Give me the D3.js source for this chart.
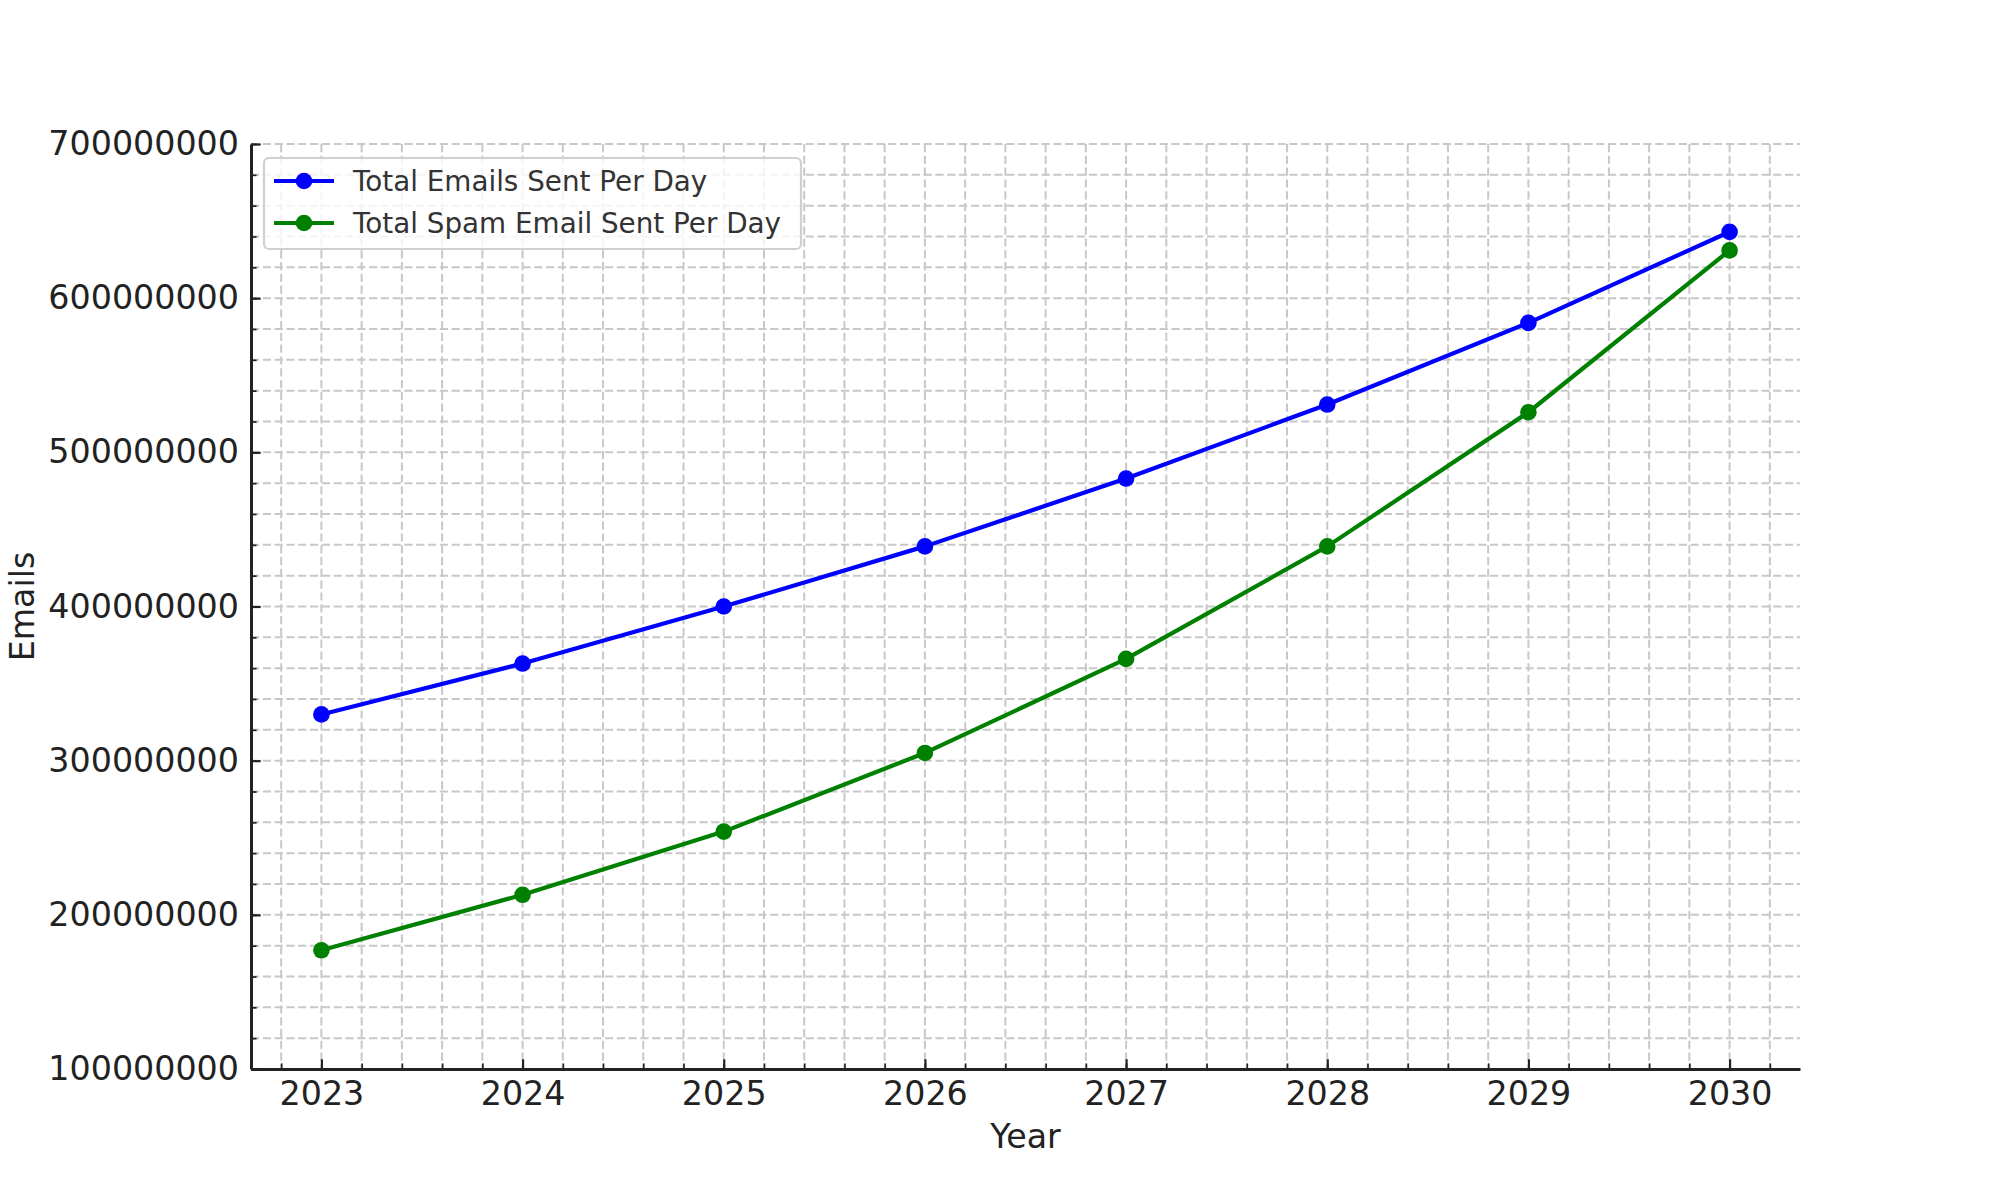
<!DOCTYPE html>
<html>
<head>
<meta charset="utf-8">
<script src="https://cdn.jsdelivr.net/npm/d3@7"></script>
<style>
  html, body { margin: 0; padding: 0; background: #fff; }
  svg { display: block; font-family: "DejaVu Sans", sans-serif; }
</style>
</head>
<body>
<svg id="chart" width="2000" height="1200"></svg>
<script>
// ---- data ----
const years = [2023, 2024, 2025, 2026, 2027, 2028, 2029, 2030];
const totalEmails = [330000000, 363000000, 400000000, 439000000, 483000000, 531000000, 584000000, 643000000];
const spamEmails  = [177000000, 213000000, 254000000, 305000000, 366000000, 439000000, 526000000, 631000000];
const seriesNames = ["Total Emails Sent Per Day", "Total Spam Email Sent Per Day"];
const seriesColors = ["#0000ff", "#008000"];
const yTickValues = [100000000, 200000000, 300000000, 400000000, 500000000, 600000000, 700000000];
const xLabel = "Year";
const yLabel = "Emails";

// ---- layout ----
const svg = d3.select("#chart");
const pLeft = 251, pRight = 1800, pTop = 144, pBottom = 1069;

const x = d3.scaleLinear().domain([2022.65, 2030.35]).range([pLeft, pRight]);
const y = d3.scaleLinear().domain([100000000, 700000000]).range([pBottom, pTop]);

const xMinor = d3.range(2022.8, 2030.35, 0.2).map(v => Math.round(v * 10) / 10);
const yMinor = d3.range(100000000, 700000001, 20000000);

// grid
const grid = svg.append("g").attr("stroke", "#c8c8c8").attr("stroke-width", 2)
  .attr("stroke-dasharray", "8.2,3.6").attr("fill", "none");
grid.selectAll("line.gx").data(xMinor).join("line").attr("class", "gx")
  .attr("x1", d => x(d)).attr("x2", d => x(d)).attr("y1", pTop).attr("y2", pBottom);
grid.selectAll("line.gy").data(yMinor).join("line").attr("class", "gy")
  .attr("x1", pLeft).attr("x2", pRight).attr("y1", d => y(d)).attr("y2", d => y(d));

// axes
const axisColor = "#222";
function styleAxis(g) {
  g.select(".domain").attr("stroke", axisColor).attr("stroke-width", 3);
  g.selectAll(".tick line").attr("stroke", axisColor).attr("stroke-width", 2.2);
  g.selectAll(".tick text").attr("fill", axisColor).attr("font-size", "33.3px")
    .attr("font-family", "DejaVu Sans, sans-serif");
}

const xMinorAxis = d3.axisBottom(x).tickValues(xMinor).tickSize(-5.6).tickFormat("").tickSizeOuter(0);
const gxm = svg.append("g").attr("transform", `translate(0,${pBottom})`).call(xMinorAxis);
gxm.select(".domain").remove();
gxm.selectAll(".tick line").attr("stroke", axisColor).attr("stroke-width", 1.7);

const yMinorAxis = d3.axisLeft(y).tickValues(yMinor).tickSize(-5.6).tickFormat("").tickSizeOuter(0);
const gym = svg.append("g").attr("transform", `translate(${pLeft},0)`).call(yMinorAxis);
gym.select(".domain").remove();
gym.selectAll(".tick line").attr("stroke", axisColor).attr("stroke-width", 1.7);

const xAxis = d3.axisBottom(x).tickValues(years).tickFormat(d3.format("d"))
  .tickSize(-9.7).tickSizeOuter(0).tickPadding(10);
const gx = svg.append("g").attr("transform", `translate(0,${pBottom})`).call(xAxis);
styleAxis(gx);
gx.selectAll(".tick text").attr("dy", "0.77em");

const yAxis = d3.axisLeft(y).tickValues(yTickValues).tickFormat(d3.format("d"))
  .tickSize(-9.7).tickSizeOuter(0).tickPadding(12);
const gy = svg.append("g").attr("transform", `translate(${pLeft},0)`).call(yAxis);
styleAxis(gy);

// axis labels
svg.append("text").attr("x", (pLeft + pRight) / 2).attr("y", 1148)
  .attr("text-anchor", "middle").attr("font-size", "33.3px").attr("fill", axisColor).text(xLabel);
svg.append("text").attr("transform", `translate(34,${(pTop + pBottom) / 2}) rotate(-90)`)
  .attr("text-anchor", "middle").attr("font-size", "33.3px").attr("fill", axisColor).text(yLabel);

// lines
const series = [totalEmails, spamEmails];
const line = d3.line().x((d, i) => x(years[i])).y(d => y(d));
series.forEach((vals, si) => {
  svg.append("path").datum(vals).attr("d", line).attr("fill", "none")
    .attr("stroke", seriesColors[si]).attr("stroke-width", 4.2)
    .attr("stroke-linejoin", "round").attr("stroke-linecap", "square");
  svg.append("g").selectAll("circle").data(vals).join("circle")
    .attr("cx", (d, i) => x(years[i])).attr("cy", d => y(d)).attr("r", 8.3)
    .attr("fill", seriesColors[si]);
});

// legend
const lg = svg.append("g");
lg.append("rect").attr("x", 264).attr("y", 158).attr("width", 537).attr("height", 91)
  .attr("rx", 5).attr("ry", 5).attr("fill", "#fff").attr("fill-opacity", 0.8)
  .attr("stroke", "#d0d0d0").attr("stroke-width", 2.2);
seriesNames.forEach((name, i) => {
  const cy = 181 + i * 42;
  lg.append("line").attr("x1", 274).attr("x2", 334).attr("y1", cy).attr("y2", cy)
    .attr("stroke", seriesColors[i]).attr("stroke-width", 4.2);
  lg.append("circle").attr("cx", 304).attr("cy", cy).attr("r", 8.3).attr("fill", seriesColors[i]);
  lg.append("text").attr("x", 353).attr("y", cy).attr("dy", "0.36em")
    .attr("font-size", "27.8px").attr("fill", "#333").text(name);
});
</script>
</body>
</html>
